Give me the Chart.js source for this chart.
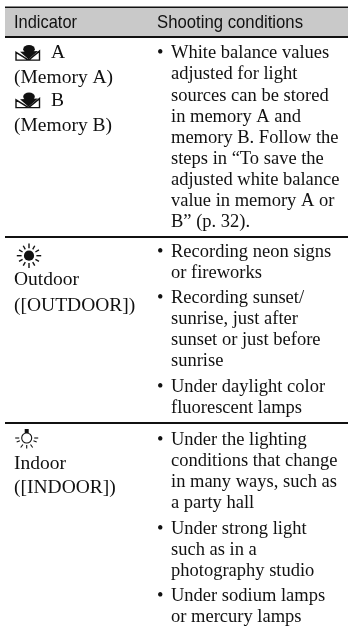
<!DOCTYPE html>
<html>
<head>
<meta charset="utf-8">
<title>Indicator table</title>
<script src="https://cdn.jsdelivr.net/npm/chart.js@4"></script>
<style>
  html, body { margin: 0; padding: 0; background: #fff; }
  canvas { display: block; filter: blur(0.3px); }
</style>
</head>
<body>
<canvas id="chart" width="348" height="628"></canvas>
<script>
/* ---------- table content ---------- */
const headers = ['Indicator', 'Shooting conditions'];

const indicatorRows = [
  ['A', '(Memory A)', 'B', '(Memory B)'],
  ['Outdoor', '([OUTDOOR])'],
  ['Indoor', '([INDOOR])']
];

// one inner array per bullet, one string per printed line
const conditionRows = [
  [['White balance values', 'adjusted for light', 'sources can be stored', 'in memory A and',
    'memory B. Follow the', 'steps in \u201CTo save the', 'adjusted white balance',
    'value in memory A or', 'B\u201D (p. 32).']],
  [['Recording neon signs', 'or fireworks'],
   ['Recording sunset/', 'sunrise, just after', 'sunset or just before', 'sunrise'],
   ['Under daylight color', 'fluorescent lamps']],
  [['Under the lighting', 'conditions that change', 'in many ways, such as', 'a party hall'],
   ['Under strong light', 'such as in a', 'photography studio'],
   ['Under sodium lamps', 'or mercury lamps']]
];

const ruleYs = [7.5, 37, 237, 423];
const headBand = [8, 36];

/* ---------- layout ---------- */
const INK = '#111';
const SERIF = '"Liberation Serif", serif';
const bodyFont = '18.5px ' + SERIF;
const leftFont = '19.5px ' + SERIF;
const headFont = '19px "Liberation Sans Narrow", "Liberation Sans", sans-serif';
const colX = { left: 14, bullet: 157, text: 171, iconLabel: 51 };
const firstBase = [58.3, 256.6, 445];
const LINE = 21.1, BULLET_GAP = 4.2;
const leftBase = [[58, 82.7, 106, 130.7], [285, 311], [469, 493]];

/* ---------- icons ---------- */
function memoryIcon(c, y) {
  c.fillStyle = INK; c.strokeStyle = INK; c.lineWidth = 1.4;
  c.beginPath();
  c.ellipse(29, y + 3.8, 5.8, 4.2, 0, 0, Math.PI * 2);
  c.fill();
  // shoulders
  c.beginPath();
  c.moveTo(20, y + 6.2); c.lineTo(38, y + 5.4); c.lineTo(28.5, y + 13.8); c.closePath();
  c.fill();
  // the two flat triangles under it
  c.beginPath();
  c.moveTo(16, y + 6.8); c.lineTo(16, y + 14.6); c.lineTo(28.5, y + 14.6); c.closePath();
  c.moveTo(39.5, y + 5.6); c.lineTo(39.5, y + 14.6); c.lineTo(28.5, y + 14.6); c.closePath();
  c.stroke();
}

function sunIcon(c, x, y) {
  c.fillStyle = INK; c.strokeStyle = INK; c.lineWidth = 1.4;
  c.beginPath(); c.arc(x, y, 5.1, 0, Math.PI * 2); c.fill();
  for (let i = 0; i < 12; i++) {
    const a = i * Math.PI / 6;
    const r2 = i % 3 === 0 ? 12.2 : 11.5;
    c.beginPath();
    c.moveTo(x + Math.cos(a) * 7.4, y + Math.sin(a) * 7.4);
    c.lineTo(x + Math.cos(a) * r2, y + Math.sin(a) * r2);
    c.stroke();
  }
}

function bulbIcon(c, x, y) {
  c.strokeStyle = INK; c.fillStyle = INK; c.lineWidth = 1.1;
  c.beginPath(); c.arc(x, y, 5, 0, Math.PI * 2); c.stroke();
  c.fillRect(x - 2, y - 9, 4, 4);
  [[-11.5, 0, -7.5, 0], [7.5, 0, 11.5, 0], [-10, 4, -6.8, 2.8], [6.8, 2.8, 10, 4],
   [-6, 9.5, -3.8, 6.5], [3.8, 6.5, 6, 9.5], [0, 7, 0, 10.5]].forEach(s => {
    c.beginPath();
    c.moveTo(x + s[0], y + s[1]);
    c.lineTo(x + s[2], y + s[3]);
    c.stroke();
  });
}

/* ---------- text plugin ---------- */
const tablePlugin = {
  id: 'tableText',
  afterDraw(chart) {
    const c = chart.ctx;
    c.save();
    c.textBaseline = 'alphabetic';
    c.fillStyle = INK;

    c.font = headFont;
    c.fillText(headers[0], colX.left, 28, 63);
    c.fillText(headers[1], colX.bullet, 28, 146);

    conditionRows.forEach((row, r) => {
      let base = firstBase[r];
      row.forEach(bullet => {
        c.font = bodyFont;
        c.fillText('\u2022', colX.bullet, base);
        bullet.forEach(line => {
          c.fillText(line, colX.text, base);
          base += LINE;
        });
        base += BULLET_GAP;
      });
    });

    c.font = leftFont;
    indicatorRows.forEach((row, r) => {
      row.forEach((line, i) => {
        const x = line.length === 1 ? colX.iconLabel : colX.left;
        c.fillText(line, x, leftBase[r][i]);
      });
    });

    memoryIcon(c, 45.5);
    memoryIcon(c, 93);
    sunIcon(c, 29, 255.7);
    bulbIcon(c, 26.7, 438);
    c.restore();
  }
};

/* ---------- chart ---------- */
const ruleSets = ruleYs.map(y => ({
  data: [{ x: 5, y }, { x: 348, y }],
  showLine: true, pointRadius: 0, borderColor: '#111', borderWidth: 2
}));
const bandSet = {
  data: [{ x: 5, y: (headBand[0] + headBand[1]) / 2 }, { x: 348, y: (headBand[0] + headBand[1]) / 2 }],
  showLine: true, pointRadius: 0, borderColor: '#c9c9c9',
  borderWidth: headBand[1] - headBand[0], borderCapStyle: 'butt'
};

new Chart(document.getElementById('chart'), {
  type: 'scatter',
  data: { datasets: [bandSet, ...ruleSets] },
  options: {
    responsive: false,
    animation: false,
    layout: { padding: 0 },
    plugins: { legend: { display: false }, tooltip: { enabled: false } },
    scales: {
      x: { type: 'linear', min: 0, max: 348, display: false },
      y: { type: 'linear', min: 0, max: 628, reverse: true, display: false }
    }
  },
  plugins: [tablePlugin]
});
</script>
</body>
</html>
